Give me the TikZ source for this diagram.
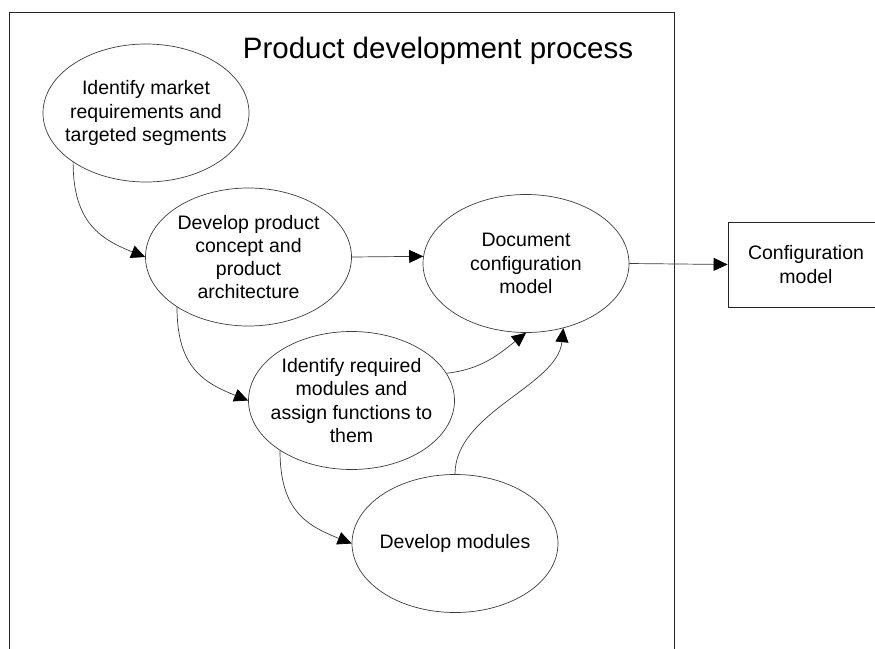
\documentclass[tikz,border=0pt]{standalone}
\usepackage{fontspec}
\setmainfont{Liberation Sans}
\definecolor{edge}{RGB}{60,60,60}
\usepackage{tikz}
\usetikzlibrary{arrows.meta,shapes.geometric}

\begin{document}
\begin{tikzpicture}[x=1pt,y=-1pt,
    txt/.style={font=\fontsize{19.5}{23.3}\selectfont,align=center},
    proc/.style={txt,ellipse,draw=edge,line width=0.7pt,minimum width=206pt,minimum height=138pt,inner xsep=-10pt,inner ysep=0pt},
    flow/.style={-{Triangle[length=14pt,width=13pt,color=black]},line width=0.7pt,edge}]
        \useasboundingbox (0,0) rectangle (875,648);
        \draw[line width=1pt,black!85] (9.5,12) rectangle (674,670);
        \node[font=\fontsize{29.5}{34}\selectfont,anchor=base] (title) at (438,58) {Product development process};

        \node[proc] (market) at (146,113) {Identify market\\requirements and\\targeted segments};
        \node[proc] (concept) at (248.5,257) {Develop product\\concept and\\product\\architecture};
        \node[proc] (docmodel) at (526,263.5) {Document\\configuration\\model};
        \node[proc] (modules) at (351.5,400.5) {Identify required\\modules and\\assign functions to\\them};
        \node[proc] (devmod) at (455,543.5) {Develop modules};
        \node[txt,draw=black!85,line width=0.8pt,minimum width=156pt,minimum height=85pt] (cfgmodel) at (806,264.5) {Configuration\\model};

        \draw[flow] (market.214) .. controls +(0,60) and +(-45,-18) .. (concept.west);
        \draw[flow] (concept.215) .. controls +(0,60) and +(-45,-18) .. (modules.west);
        \draw[flow] (modules.215) .. controls +(0,60) and +(-45,-18) .. (devmod.west);
        \draw[flow] (concept.east) -- (docmodel.176);
        \draw[flow] (modules.16) .. controls +(35,-4) and +(-28,22) .. (docmodel.south);
        \draw[flow] (devmod.north) .. controls +(0,-62) and +(-6,58) .. (docmodel.-60);
        \draw[flow] (docmodel.east) -- (cfgmodel.west);
\end{tikzpicture}
\end{document}
